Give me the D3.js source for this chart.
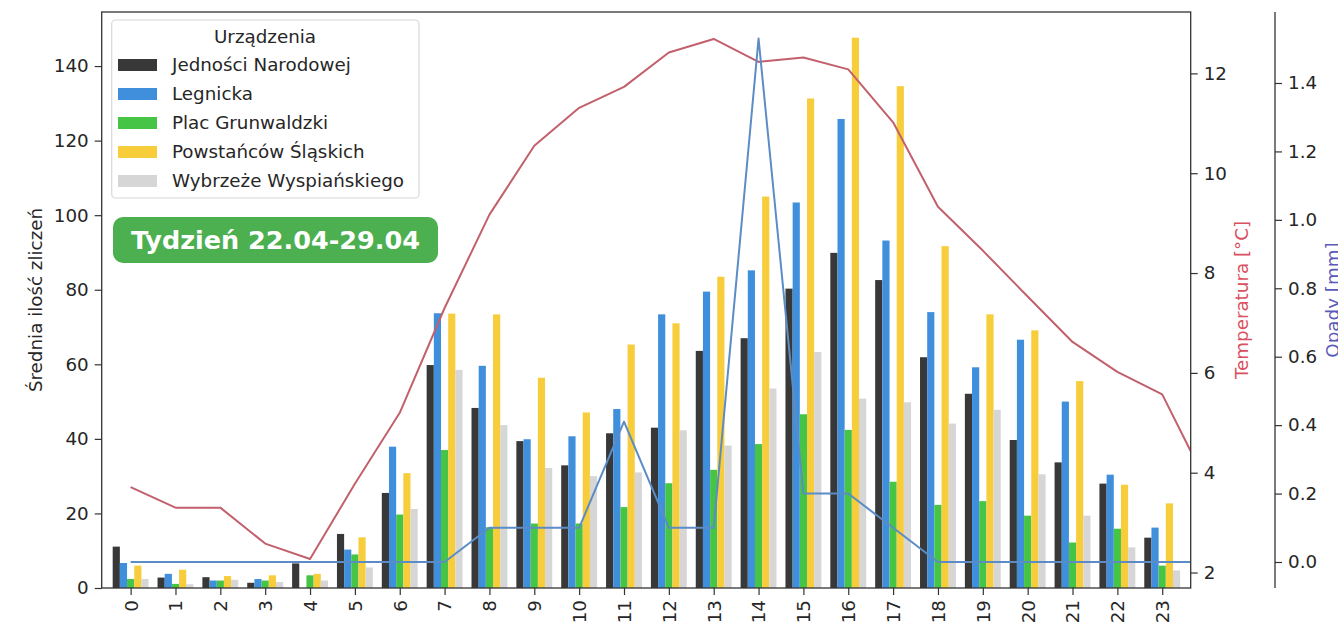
<!DOCTYPE html>
<html><head><meta charset="utf-8">
<script src="https://cdn.jsdelivr.net/npm/d3@7"></script>
<style>
html,body{margin:0;padding:0;background:#fff;}
svg{display:block;font-family:"DejaVu Sans",sans-serif;}
</style></head>
<body><svg id="c" width="1338" height="637"></svg>
<script>
// ---------- data ----------
const hours = d3.range(0, 24);
const hourLabels = hours.map(String);
const seriesNames = ["Jedności Narodowej","Legnicka","Plac Grunwaldzki","Powstańców Śląskich","Wybrzeże Wyspiańskiego"];
const seriesColors = ["#383838","#3f8fdc","#45c445","#f7cd3c","#d6d6d6"];
const jednosciNarodowej = [11.1,2.8,2.9,1.4,6.6,14.5,25.5,59.8,48.3,39.4,32.9,41.5,43.0,63.6,67.0,80.3,89.9,82.6,61.9,52.1,39.7,33.7,28.0,13.5];
const legnicka          = [6.7,3.8,2.0,2.4,0.0,10.3,37.9,73.7,59.6,39.9,40.7,48.0,73.4,79.5,85.2,103.4,125.8,93.2,74.0,59.2,66.6,50.0,30.4,16.2];
const placGrunwaldzki   = [2.4,1.1,2.0,2.0,3.4,9.0,19.7,37.0,16.3,17.3,17.3,21.7,28.1,31.7,38.6,46.6,42.4,28.5,22.3,23.3,19.4,12.2,15.9,6.0];
const powstancowSl      = [6.0,4.9,3.2,3.4,3.8,13.6,30.8,73.6,73.4,56.4,47.1,65.3,71.0,83.5,105.0,131.3,147.6,134.6,91.7,73.4,69.1,55.5,27.7,22.7];
const wybrzezeWysp      = [2.4,1.0,2.2,1.6,2.0,5.5,21.2,58.5,43.7,32.2,30.0,31.0,42.3,38.2,53.5,63.3,50.8,49.8,44.1,47.8,30.5,19.4,10.9,4.7];
const seriesValues = [jednosciNarodowej, legnicka, placGrunwaldzki, powstancowSl, wybrzezeWysp];
// weather series (hourly, includes next midnight)
const weatherHours = d3.range(0, 25);
const temperature = [3.71,3.30,3.30,2.58,2.27,3.78,5.20,7.30,9.17,10.55,11.31,11.73,12.42,12.69,12.23,12.32,12.08,11.02,9.33,8.45,7.53,6.62,6.02,5.57,3.78];
const precipitation = [0,0,0,0,0,0,0,0,0.1,0.1,0.1,0.41,0.1,0.1,1.53,0.2,0.2,0.1,0,0,0,0,0,0,0];
const leftTicks = [0,20,40,60,80,100,120,140];
const tempTicks = [2,4,6,8,10,12];
const precTicks = [0,0.2,0.4,0.6,0.8,1.0,1.2,1.4];
const legendTitle = "Urządzenia";
const badgeText = "Tydzień 22.04-29.04";
const yLabel = "Średnia ilość zliczeń";
const tempLabel = "Temperatura [°C]";
const precLabel = "Opady [mm]";

// ---------- layout ----------
const L = 101.7, R = 1190.7, T = 12, B = 588;
const svg = d3.select("#c");
const FS = 18.3;
const axisColor = "#333";
const textColor = "#262626";

const x = d3.scaleLinear().domain([-0.645, 23.635]).range([L, R]);
const inner = d3.scaleBand().domain(seriesNames).range([x(-0.4) - x(0), x(0.4) - x(0)]);
const y = d3.scaleLinear().domain([0, 154.5]).range([B, T]);
const yT = d3.scaleLinear().domain([1.69, 13.23]).range([B, T]);
const yP = d3.scaleLinear().domain([-0.076, 1.6075]).range([B, T]);

svg.append("defs").append("clipPath").attr("id","plotclip")
  .append("rect").attr("x",L).attr("y",T).attr("width",R-L).attr("height",B-T);

// bars
const barsG = svg.append("g").attr("clip-path","url(#plotclip)");
seriesNames.forEach((name, si) => {
  barsG.append("g").selectAll("rect").data(hours).join("rect")
    .attr("x", h => x(h) + inner(name))
    .attr("width", inner.bandwidth())
    .attr("y", h => y(seriesValues[si][h]))
    .attr("height", h => B - y(seriesValues[si][h]))
    .attr("fill", seriesColors[si]);
});

// lines
const linesG = svg.append("g").attr("clip-path","url(#plotclip)");
linesG.append("path")
  .datum(weatherHours)
  .attr("d", d3.line().x(h => x(h)).y(h => yT(temperature[h])))
  .attr("fill","none").attr("stroke","#c2606c").attr("stroke-width",2).attr("stroke-linejoin","round");
linesG.append("path")
  .datum(weatherHours)
  .attr("d", d3.line().x(h => x(h)).y(h => yP(precipitation[h])))
  .attr("fill","none").attr("stroke","#5b8cc6").attr("stroke-width",2).attr("stroke-linejoin","round");

// frame
svg.append("rect").attr("x",L).attr("y",T).attr("width",R-L).attr("height",B-T)
  .attr("fill","none").attr("stroke",axisColor).attr("stroke-width",1.3);

function styleAxis(g){
  g.select(".domain").remove();
  g.selectAll(".tick line").attr("stroke",axisColor).attr("stroke-width",1.2);
  g.selectAll(".tick text").attr("fill",textColor).attr("font-size",FS).attr("font-family","DejaVu Sans");
}
// left axis
const gl = svg.append("g").attr("transform",`translate(${L},0)`)
  .call(d3.axisLeft(y).tickValues(leftTicks).tickSize(7).tickPadding(6).tickFormat(d3.format("d")));
styleAxis(gl);
// bottom axis
const gb = svg.append("g").attr("transform",`translate(0,${B})`)
  .call(d3.axisBottom(x).tickValues(hours).tickSize(7).tickFormat(h => hourLabels[h]));
styleAxis(gb);
gb.selectAll(".tick text").attr("transform","translate(0,12) rotate(-90)")
  .attr("text-anchor","end").attr("dy","0.35em").attr("y",0).attr("x",0);
// temperature axis
const gt = svg.append("g").attr("transform",`translate(${R},0)`)
  .call(d3.axisRight(yT).tickValues(tempTicks).tickSize(7).tickPadding(6).tickFormat(d3.format("d")));
styleAxis(gt);
// precipitation axis (offset)
const PX = 1275;
const gp = svg.append("g").attr("transform",`translate(${PX},0)`)
  .call(d3.axisRight(yP).tickValues(precTicks).tickSize(7).tickPadding(6).tickFormat(d3.format(".1f")));
styleAxis(gp);
gp.append("line").attr("x1",0).attr("x2",0).attr("y1",T).attr("y2",B).attr("stroke",axisColor).attr("stroke-width",1.3);

// axis labels
svg.append("text").attr("transform",`translate(42,${(T+B)/2}) rotate(-90)`)
  .attr("text-anchor","middle").attr("font-size",FS).attr("fill",textColor).text(yLabel);
svg.append("text").attr("transform",`translate(1248,${(T+B)/2}) rotate(-90)`)
  .attr("text-anchor","middle").attr("font-size",FS).attr("fill","#d9505e").text(tempLabel);
svg.append("text").attr("transform",`translate(1338.5,${(T+B)/2}) rotate(-90)`)
  .attr("text-anchor","middle").attr("font-size",FS).attr("fill","#5a5ab8").text(precLabel);

// legend
const lg = svg.append("g");
lg.append("rect").attr("x",111.7).attr("y",20).attr("width",307.3).attr("height",178).attr("rx",4)
  .attr("fill","#fff").attr("fill-opacity",0.85).attr("stroke","#d8d8d8").attr("stroke-width",1.2);
lg.append("text").attr("x",265).attr("y",43).attr("text-anchor","middle")
  .attr("font-size",FS).attr("fill",textColor).text(legendTitle);
const rowY = d3.scalePoint().domain(seriesNames).range([65, 181]);
seriesNames.forEach((name, i) => {
  lg.append("rect").attr("x",118).attr("y",rowY(name)-6).attr("width",39).attr("height",12).attr("fill",seriesColors[i]);
  lg.append("text").attr("x",172).attr("y",rowY(name)).attr("dy","0.35em")
    .attr("font-size",FS).attr("fill",textColor).text(name);
});

// badge
const bg = svg.append("g");
bg.append("rect").attr("x",113).attr("y",217).attr("width",325).attr("height",46).attr("rx",10)
  .attr("fill","#4caf50");
bg.append("text").attr("x",275.5).attr("y",240).attr("dy","0.36em").attr("text-anchor","middle")
  .attr("font-family","'DejaVu Sans', sans-serif").attr("font-weight",700).attr("font-size",25.5)
  .attr("fill","#fff").text(badgeText);
</script></body></html>
